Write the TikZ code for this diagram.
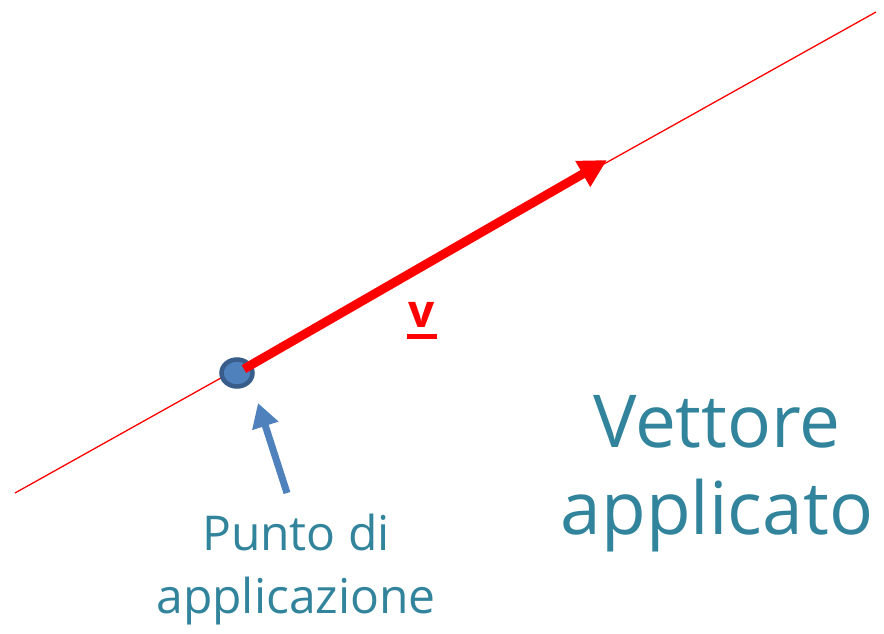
\documentclass[tikz,border=0pt]{standalone}
\usepackage{fontspec}
\setmainfont{Open Sans}
\usetikzlibrary{arrows.meta,shapes.geometric}
\definecolor{teal1}{HTML}{31849B}
\definecolor{ptfill}{HTML}{4F81BD}
\definecolor{ptdraw}{HTML}{385D8A}
\tikzset{
  lbl/.style={text=teal1, font=\fontsize{48}{63}\selectfont, align=center, inner sep=0pt},
  biglbl/.style={text=teal1, font=\fontsize{73}{87}\selectfont, align=center, inner sep=0pt},
}
\begin{document}
\begin{tikzpicture}[x=1pt,y=-1pt]
\useasboundingbox (0,0) rectangle (884,633);
\coordinate (l0) at (15,493);
\coordinate (l1) at (876,12);
\draw[red, line width=1.3pt] (l0) -- (l1);
\coordinate (tip) at (607,160);
\node[ellipse, minimum width=31pt, minimum height=27pt, fill=ptfill, draw=ptdraw, line width=4.5pt, inner sep=0pt] (pt) at (237,373) {};
\draw[red, line width=9pt, -{Triangle[length=28pt,width=28pt]}, shorten <=8pt] (pt.center) -- (tip);
\node[text=red, font=\fontsize{46}{46}\selectfont\bfseries, inner sep=0pt, anchor=base] (v) at (422,327) {v};
\draw[red, line width=5pt] ([xshift=-2pt,yshift=-9pt]v.base west) -- ([xshift=2pt,yshift=-9pt]v.base east);
\coordinate (bs) at (287,493);
\coordinate (bt) at (258,403);
\draw[ptfill, line width=7pt, -{Triangle[length=24pt,width=26pt]}] (bs) -- (bt);
\node[lbl] (pa) at (296,570) {Punto di\\applicazione};
\node[biglbl] (va) at (717,474) {Vettore\\applicato};
\end{tikzpicture}
\end{document}
